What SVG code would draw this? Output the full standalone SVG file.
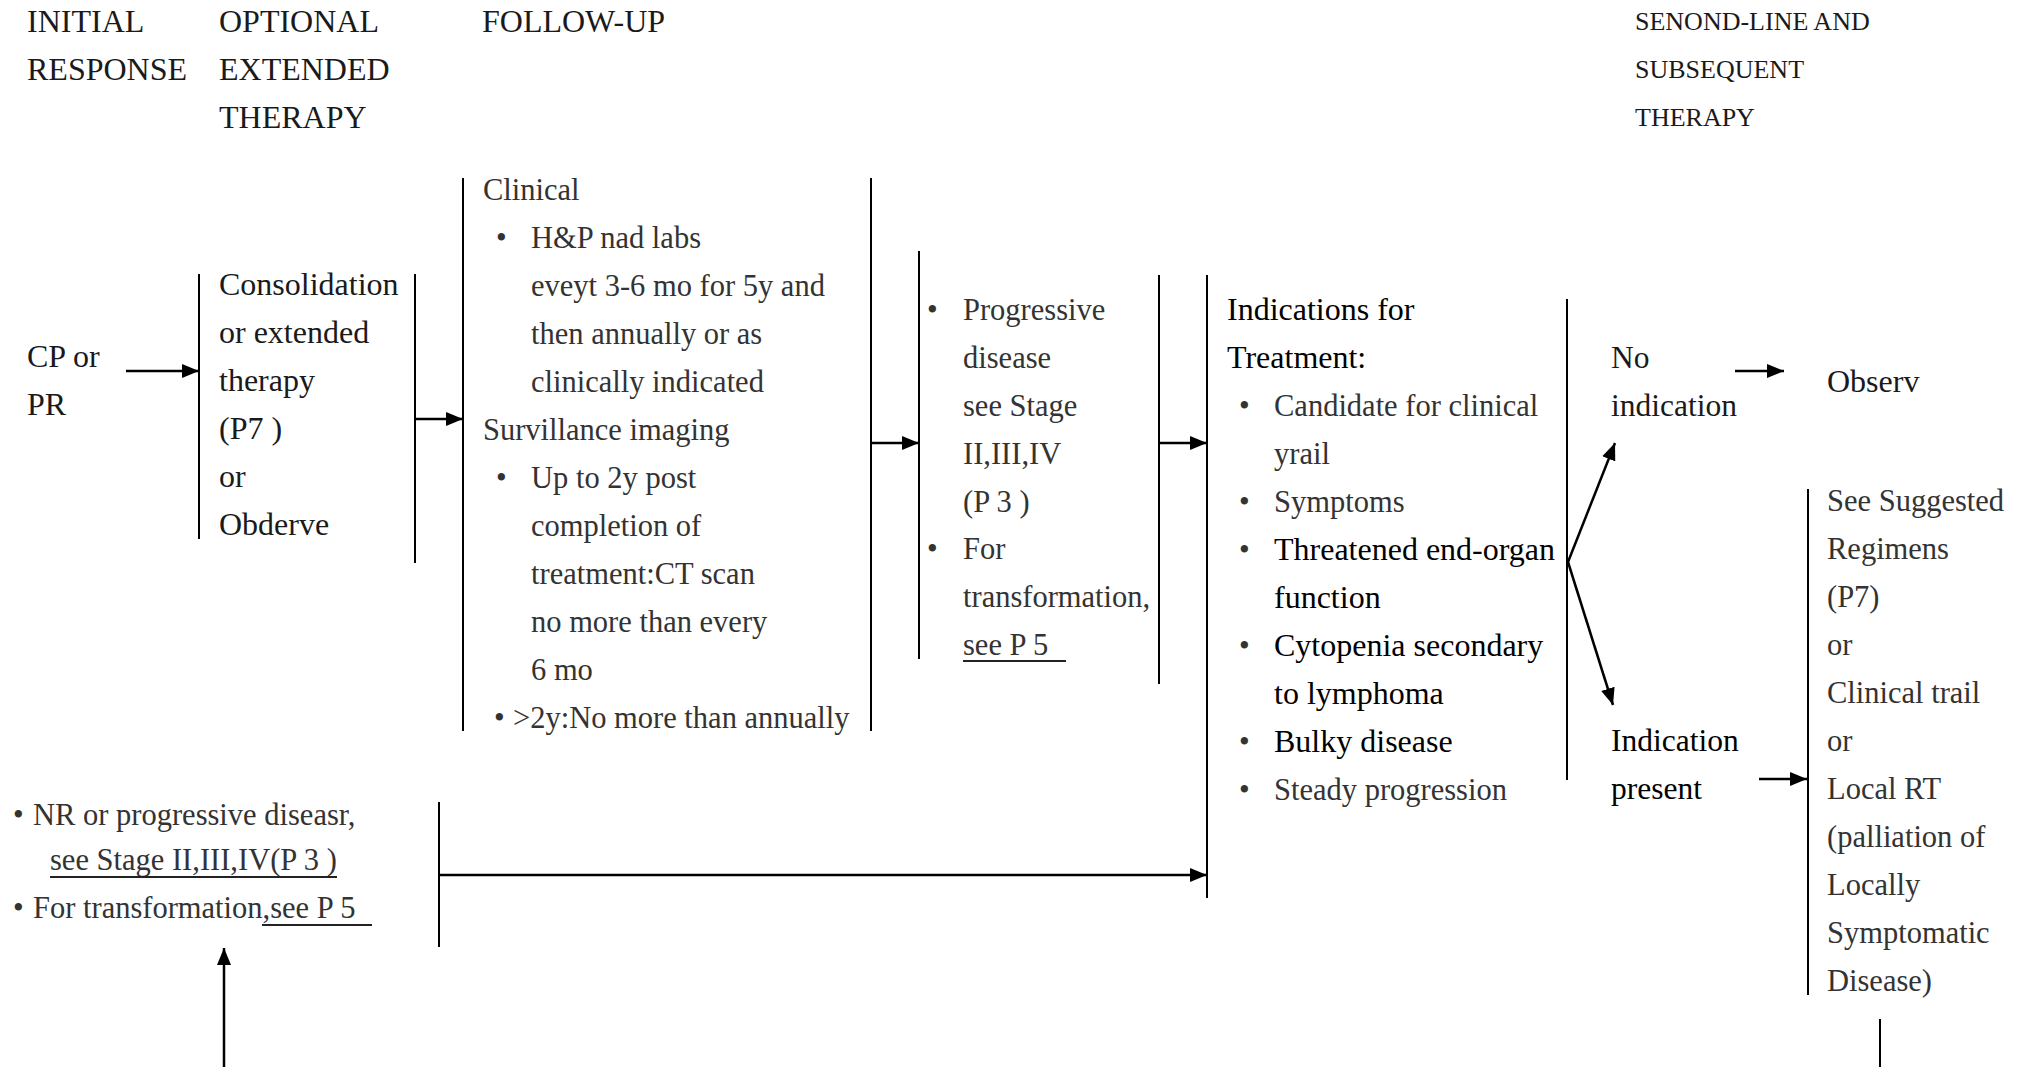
<svg xmlns="http://www.w3.org/2000/svg" width="2020" height="1067" viewBox="0 0 2020 1067">
<style>
text{font-family:"Liberation Serif","Times New Roman",serif;fill:#1a1a1a}
.h{font-size:32px}
.hs{font-size:26px}
.f32{font-size:32px}
.f30{font-size:30.5px;fill:#333}
.f31{font-size:31.5px}
.dk{fill:#000}
.bar{stroke:#000;stroke-width:2;fill:none}
.arr{stroke:#000;stroke-width:2.5;fill:none;marker-end:url(#ah)}
.ul{stroke:#222;stroke-width:2}
</style>
<defs>
<marker id="ah" markerUnits="userSpaceOnUse" markerWidth="18" markerHeight="16" refX="17" refY="8" orient="auto">
<path d="M0,1 L17,8 L0,15 z" fill="#000"/>
</marker>
</defs>
<rect width="2020" height="1067" fill="#fff"/>

<g id="headers">
<text class="h" x="27" y="32">INITIAL</text>
<text class="h" x="27" y="80">RESPONSE</text>
<text class="h" x="219" y="32">OPTIONAL</text>
<text class="h" x="219" y="80">EXTENDED</text>
<text class="h" x="219" y="128">THERAPY</text>
<text class="h" x="482" y="32">FOLLOW-UP</text>
<text class="hs" x="1635" y="30">SENOND-LINE AND</text>
<text class="hs" x="1635" y="78">SUBSEQUENT</text>
<text class="hs" x="1635" y="126">THERAPY</text>
</g>

<g id="node-cp">
<text class="f32" x="27" y="367">CP or</text>
<text class="f32" x="27" y="415">PR</text>
</g>

<g id="node-consolidation">
<line class="bar" x1="199" y1="274" x2="199" y2="539"/>
<line class="bar" x1="415" y1="274" x2="415" y2="563"/>
<text class="f32" x="219" y="295">Consolidation</text>
<text class="f32" x="219" y="343">or extended</text>
<text class="f32" x="219" y="391">therapy</text>
<text class="f32" x="219" y="439">(P7 )</text>
<text class="f32" x="219" y="487">or</text>
<text class="f32" x="219" y="535">Obderve</text>
</g>

<g id="node-followup">
<line class="bar" x1="463" y1="178" x2="463" y2="731"/>
<line class="bar" x1="871" y1="178" x2="871" y2="731"/>
<text class="f30" x="483" y="200">Clinical</text>
<text class="f30" x="496" y="248">•</text>
<text class="f30" x="531" y="248">H&amp;P nad labs</text>
<text class="f30" x="531" y="296">eveyt 3-6 mo for 5y and</text>
<text class="f30" x="531" y="344">then annually or as</text>
<text class="f30" x="531" y="392">clinically indicated</text>
<text class="f30" x="483" y="440">Survillance imaging</text>
<text class="f30" x="496" y="488">•</text>
<text class="f30" x="531" y="488">Up to 2y post</text>
<text class="f30" x="531" y="536">completion of</text>
<text class="f30" x="531" y="584">treatment:CT scan</text>
<text class="f30" x="531" y="632">no more than every</text>
<text class="f30" x="531" y="680">6 mo</text>
<text class="f30" x="494" y="728">•</text>
<text class="f30" x="513" y="728">&gt;2y:No more than annually</text>
</g>

<g id="node-progressive">
<line class="bar" x1="919" y1="251" x2="919" y2="659"/>
<line class="bar" x1="1159" y1="275" x2="1159" y2="684"/>
<text class="f30" x="927" y="320">•</text>
<text class="f30" x="963" y="320">Progressive</text>
<text class="f30" x="963" y="368">disease</text>
<text class="f30" x="963" y="416">see Stage</text>
<text class="f30" x="963" y="464">II,III,IV</text>
<text class="f30" x="963" y="512">(P 3 )</text>
<text class="f30" x="927" y="559">•</text>
<text class="f30" x="963" y="559">For</text>
<text class="f30" x="963" y="607">transformation,</text>
<text class="f30" x="963" y="655">see P 5</text>
<line class="ul" x1="963" y1="661" x2="1066" y2="661"/>
</g>

<g id="node-indications">
<line class="bar" x1="1207" y1="275" x2="1207" y2="898"/>
<line class="bar" x1="1567" y1="299" x2="1567" y2="780"/>
<text class="f32 dk" x="1227" y="320">Indications for</text>
<text class="f32 dk" x="1227" y="368">Treatment:</text>
<text class="f30" x="1239" y="416">•</text>
<text class="f30" x="1274" y="416">Candidate for clinical</text>
<text class="f30" x="1274" y="464">yrail</text>
<text class="f30" x="1239" y="512">•</text>
<text class="f30" x="1274" y="512">Symptoms</text>
<text class="f30" x="1239" y="560">•</text>
<text class="f32 dk" x="1274" y="560">Threatened end-organ</text>
<text class="f32 dk" x="1274" y="608">function</text>
<text class="f30" x="1239" y="656">•</text>
<text class="f32 dk" x="1274" y="656">Cytopenia secondary</text>
<text class="f32 dk" x="1274" y="704">to lymphoma</text>
<text class="f30" x="1239" y="752">•</text>
<text class="f32 dk" x="1274" y="752">Bulky disease</text>
<text class="f30" x="1239" y="800">•</text>
<text class="f30" x="1274" y="800">Steady progression</text>
</g>

<g id="node-noindication">
<text class="f31" x="1611" y="368">No</text>
<text class="f31" x="1611" y="416">indication</text>
</g>

<g id="node-observ">
<text class="f32" x="1827" y="392">Observ</text>
</g>

<g id="node-indicationpresent">
<text class="f31 dk" x="1611" y="751">Indication</text>
<text class="f31 dk" x="1611" y="799">present</text>
</g>

<g id="node-secondline">
<line class="bar" x1="1808" y1="489" x2="1808" y2="995"/>
<text class="f30" x="1827" y="511">See Suggested</text>
<text class="f30" x="1827" y="559">Regimens</text>
<text class="f30" x="1827" y="607">(P7)</text>
<text class="f30" x="1827" y="655">or</text>
<text class="f30" x="1827" y="703">Clinical trail</text>
<text class="f30" x="1827" y="751">or</text>
<text class="f30" x="1827" y="799">Local RT</text>
<text class="f30" x="1827" y="847">(palliation of</text>
<text class="f30" x="1827" y="895">Locally</text>
<text class="f30" x="1827" y="943">Symptomatic</text>
<text class="f30" x="1827" y="991">Disease)</text>
</g>

<g id="node-nr">
<line class="bar" x1="439" y1="802" x2="439" y2="947"/>
<text class="f30" x="13" y="825">•</text>
<text class="f30" x="33" y="825">NR or progressive diseasr,</text>
<text class="f30" x="50" y="870">see Stage II,III,IV(P 3 )</text>
<line class="ul" x1="50" y1="877" x2="337" y2="877"/>
<text class="f30" x="13" y="918">•</text>
<text class="f30" x="33" y="918">For transformation,see P 5</text>
<line class="ul" x1="262" y1="925" x2="372" y2="925"/>
</g>

<g id="connectors">
<line class="arr" x1="126" y1="371" x2="199" y2="371"/>
<line class="arr" x1="415" y1="419" x2="463" y2="419"/>
<line class="arr" x1="871" y1="443" x2="919" y2="443"/>
<line class="arr" x1="1159" y1="443" x2="1207" y2="443"/>
<line class="arr" x1="1568" y1="562" x2="1615" y2="443"/>
<line class="arr" x1="1568" y1="562" x2="1613" y2="705"/>
<line class="arr" x1="1735" y1="371" x2="1784" y2="371"/>
<line class="arr" x1="1759" y1="779" x2="1807" y2="779"/>
<line class="arr" x1="439" y1="875" x2="1207" y2="875"/>
<line class="arr" x1="224" y1="1067" x2="224" y2="948"/>
<line class="bar" x1="1880" y1="1019" x2="1880" y2="1067"/>
</g>
</svg>
